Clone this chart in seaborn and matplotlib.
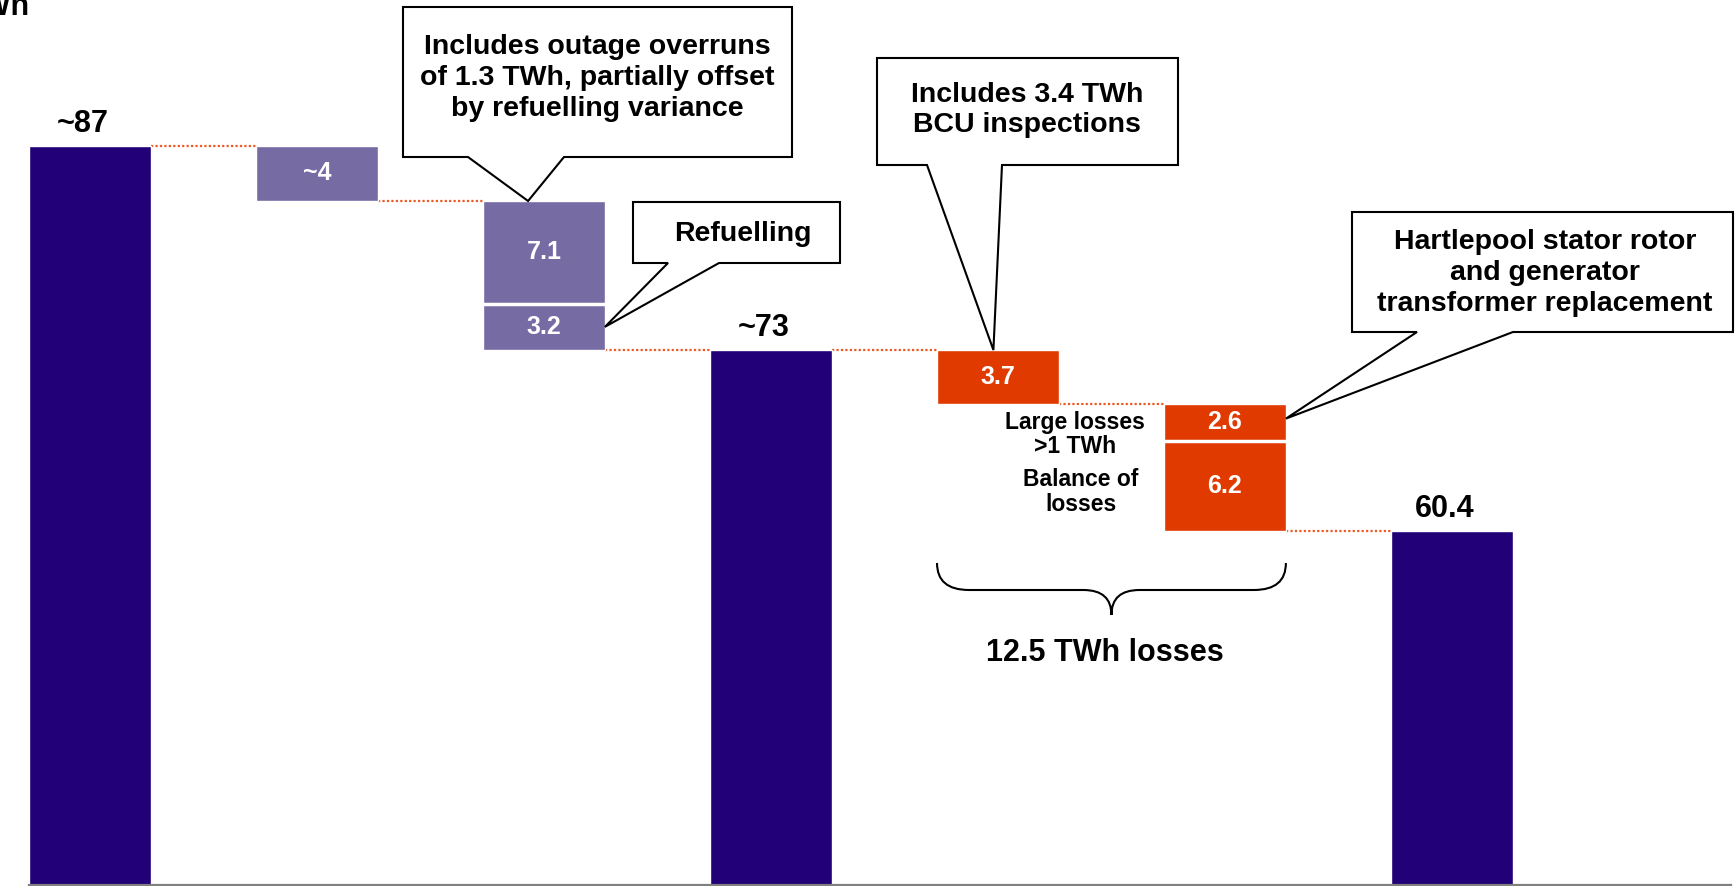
import numpy as np
import pandas as pd
import matplotlib
matplotlib.use("Agg")
import matplotlib.pyplot as plt
import seaborn as sns
from matplotlib.patches import Polygon, PathPatch
from matplotlib.path import Path
from matplotlib.transforms import Affine2D

# ---------------- data (TWh) ----------------
columns = ["Plan", "Adjustment", "Outages", "Mid", "BCU", "Losses", "Outturn"]
total_columns = ["Plan", "Mid", "Outturn"]
total_labels = ["~87", "~73", "60.4"]

plan_output = 87.0
outturn_output = 60.4

adjustment_label = "~4"
outage_steps = [7.1, 3.2]            # stacked: outage overruns, refuelling
outage_labels = ["7.1", "3.2"]
bcu_step = 3.7
bcu_label = "3.7"
loss_steps = [2.6, 6.2]              # stacked: large losses, balance of losses
loss_labels = ["2.6", "6.2"]
loss_side_labels = ["Large losses\n>1 TWh", "Balance of\nlosses"]
losses_total_label = "12.5 TWh losses"

# ---------------- style ----------------
NAVY = "#220077"
LILAC = "#766BA3"
ORANGE = "#E03A00"
DOTS = "#EE5A24"
W_PX, H_PX = 1736, 886
BAR_W = 0.537

sns.set_style("white")
plt.rcParams["font.family"] = ["Liberation Sans", "DejaVu Sans"]
plt.rcParams["font.weight"] = "bold"
plt.rcParams["text.color"] = "black"

fig = plt.figure(figsize=(W_PX / 100, H_PX / 100), dpi=100)
ax = fig.add_axes([29 / W_PX, 1 / H_PX, 1702 / W_PX, 885 / H_PX])

# waterfall levels, worked back from the outturn
mid_output = outturn_output + bcu_step + sum(loss_steps)
refuel_bottom = mid_output
outage_bottom = refuel_bottom + outage_steps[1]
adjust_bottom = outage_bottom + outage_steps[0]
bcu_bottom = mid_output - bcu_step
balance_bottom = bcu_bottom - sum(loss_steps)
large_bottom = balance_bottom + loss_steps[1]

totals = pd.DataFrame({"step": total_columns,
                       "value": [plan_output, mid_output, outturn_output]})
sns.barplot(data=totals, x="step", y="value", order=columns, color=NAVY,
            saturation=1, width=BAR_W, errorbar=None, ax=ax, zorder=2)

pos = {c: i for i, c in enumerate(columns)}

# floating segments
floats = [
    (pos["Adjustment"], adjust_bottom, plan_output - adjust_bottom, LILAC, adjustment_label),
    (pos["Outages"], outage_bottom, outage_steps[0], LILAC, outage_labels[0]),
    (pos["Outages"], refuel_bottom, outage_steps[1], LILAC, outage_labels[1]),
    (pos["BCU"], bcu_bottom, bcu_step, ORANGE, bcu_label),
    (pos["Losses"], large_bottom, loss_steps[0], ORANGE, loss_labels[0]),
    (pos["Losses"], balance_bottom, loss_steps[1], ORANGE, loss_labels[1]),
]
for x, b, h, col, lab in floats:
    ax.bar(x, h, bottom=b, width=BAR_W, color=col, zorder=2)
    ax.text(x, b + h / 2, lab, color="white", fontsize=18, fontweight="bold",
            ha="center", va="center", zorder=4)

# white separators inside the stacked columns
for x, y in [(pos["Outages"], outage_bottom), (pos["Losses"], large_bottom)]:
    ax.hlines(y, x - BAR_W / 2, x + BAR_W / 2, colors="white", lw=2.5, zorder=3)

# dotted connectors between consecutive columns
connectors = [
    (0, plan_output), (1, adjust_bottom), (2, refuel_bottom),
    (3, mid_output), (4, bcu_bottom), (5, balance_bottom),
]
for i, lvl in connectors:
    ax.hlines(lvl, i + BAR_W / 2, i + 1 - BAR_W / 2, colors=DOTS,
              linestyles=(0, (1, 1)), lw=1.6, zorder=1)

# total labels
for c, lab, v in zip(total_columns, total_labels,
                     [plan_output, mid_output, outturn_output]):
    ax.annotate(lab, (pos[c], v), xytext=(-5, 10), textcoords="offset points",
                ha="center", va="baseline", fontsize=22, fontweight="bold")

# side labels for the stacked losses: the first sits just under the BCU step
ax.annotate(loss_side_labels[0], (pos["Losses"] - BAR_W / 2, bcu_bottom),
            xytext=(-64, -5), textcoords="offset points", ha="center", va="top",
            fontsize=16.5, fontweight="bold", linespacing=1.1)
ax.annotate(loss_side_labels[1], (pos["Losses"] - BAR_W / 2, balance_bottom + loss_steps[1] / 2),
            xytext=(-60, -4), textcoords="offset points", ha="center", va="center",
            fontsize=16.5, fontweight="bold", linespacing=1.1)

ax.set_xlim(-BAR_W / 2, -BAR_W / 2 + 1702 / 227)
ax.set_ylim(35.93, 97.09)
ax.set_xticks([])
ax.set_yticks([])
ax.set_xlabel("")
ax.set_ylabel("")
for s in ["top", "left", "right"]:
    ax.spines[s].set_visible(False)
ax.spines["bottom"].set_color("#808080")
ax.spines["bottom"].set_linewidth(1.6)

# ---------------- callouts and brace (pixel coordinates, top-left origin) ----------------
tpx = Affine2D().scale(1, -1).translate(0, H_PX)


def to_px(x, y):
    dx, dy = ax.transData.transform((x, y))
    return dx, H_PX - dy


def callout(box, base, tip, text, text_xy):
    x0, y0, x1, y1 = box
    verts = [(x0, y0), (x1, y0), (x1, y1), (base[1], y1), tip, (base[0], y1), (x0, y1)]
    fig.add_artist(Polygon(verts, closed=True, transform=tpx, facecolor="white",
                           edgecolor="black", lw=1.5, zorder=5))
    fig.text(text_xy[0], text_xy[1], text, transform=tpx, ha="center", va="center",
             fontsize=20.5, fontweight="bold", linespacing=1.24, zorder=6)


callout((403, 7, 792, 157), (468, 564),
        to_px(pos["Outages"] - 0.07, adjust_bottom),
        "Includes outage overruns\nof 1.3 TWh, partially offset\nby refuelling variance",
        (597, 78))
callout((633, 202, 840, 263), (668, 719),
        to_px(pos["Outages"] + BAR_W / 2, refuel_bottom + outage_steps[1] / 2),
        "Refuelling", (743, 234))
callout((877, 58, 1178, 165), (927, 1002),
        to_px(pos["BCU"] - 0.02, mid_output),
        "Includes 3.4 TWh\nBCU inspections", (1027, 110))
callout((1352, 212, 1733, 332), (1417, 1513),
        to_px(pos["Losses"] + BAR_W / 2, large_bottom + loss_steps[0] * 0.6),
        "Hartlepool stator rotor\nand generator\ntransformer replacement", (1545, 273))

# brace under the loss columns
xl, _ = to_px(pos["BCU"] - BAR_W / 2, mid_output)
xr, _ = to_px(pos["Losses"] + BAR_W / 2, mid_output)
xc = (xl + xr) / 2
yt, ym, yb = 563, 590, 615
verts = [(xl, yt), (xl, ym), (xl + 32, ym),
         (xc - 28, ym), (xc, ym), (xc, yb),
         (xc, ym), (xc + 28, ym),
         (xr - 32, ym), (xr, ym), (xr, yt)]
codes = [Path.MOVETO, Path.CURVE3, Path.CURVE3,
         Path.LINETO, Path.CURVE3, Path.CURVE3,
         Path.CURVE3, Path.CURVE3,
         Path.LINETO, Path.CURVE3, Path.CURVE3]
fig.add_artist(PathPatch(Path(verts, codes), transform=tpx, facecolor="none",
                         edgecolor="black", lw=1.5, zorder=5))
fig.text(xc - 7, 653, losses_total_label, transform=tpx, ha="center", va="center",
         fontsize=22, fontweight="bold")

# unit label in the corner
fig.text(30, 15, "TWh", transform=tpx, ha="right", va="baseline",
         fontsize=22, fontweight="bold")

fig.savefig("out.png", dpi=100)
